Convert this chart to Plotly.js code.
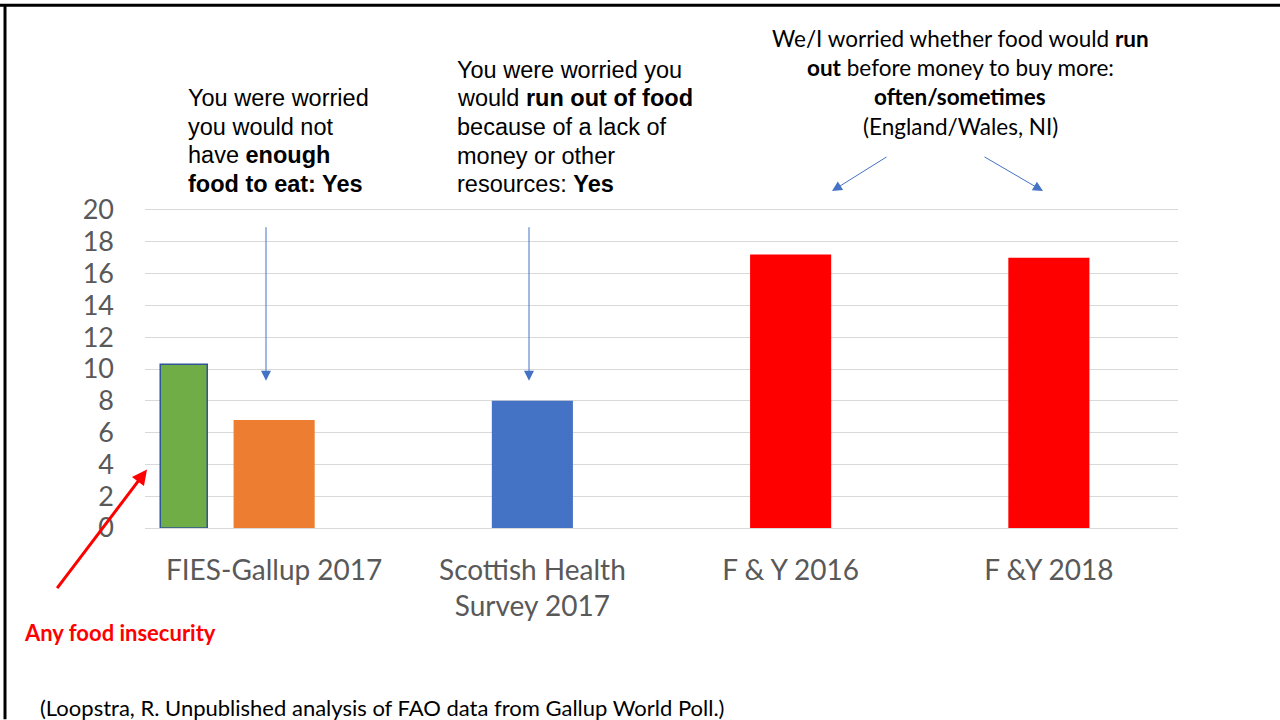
<!DOCTYPE html>
<html>
<head>
<meta charset="utf-8">
<script src="https://cdn.plot.ly/plotly-3.0.1.min.js"></script>
<style>html,body{margin:0;padding:0;background:#fff;}#chart{width:1280px;height:720px;}</style>
</head>
<body>
<div id="chart"></div>
<script>
// ---- data ----
var categories = ["FIES-Gallup 2017", "Scottish Health<br>Survey 2017", "F & Y 2016", "F &Y 2018"];
var mainValues = [6.8, 8.0, 17.2, 17.0];
var mainColors = ["#ed7d31", "#4472c4", "#ff0000", "#ff0000"];
var anyInsecurityCategory = ["FIES-Gallup 2017"];
var anyInsecurityValue = [10.3];
var yTicks = [0, 2, 4, 6, 8, 10, 12, 14, 16, 18, 20];

var note1Lines = ["You were worried", "you would not", "have <b>enough</b>", "<b>food to eat: Yes</b>"];
var note2Lines = ["You were worried you", "would <b>run out of food</b>", "because of a lack of", "money or other", "resources: <b>Yes</b>"];
var note3Lines = ["We/I worried whether food would <b>run</b>", "<b>out</b> before money to buy more:", "<b>often/sometimes</b>", "(England/Wales, NI)"];

// ---- layout geometry (pixels) ----
var L = 145, R = 1178, T = 210, B = 528.5;
function px(x) { return (x - L) / (R - L); }
function py(y) { return (B - y) / (B - T); }

var traces = [
  {
    type: "bar", x: categories, y: mainValues,
    marker: { color: mainColors, line: { width: 0 } },
    width: 0.314, hoverinfo: "x+y", showlegend: false
  },
  {
    type: "bar", x: anyInsecurityCategory, y: anyInsecurityValue,
    marker: { color: "#70ad47", line: { color: "#2f5597", width: 1.5 } },
    width: 0.182, offset: -0.441, showlegend: false
  }
];

var blue = "#4472c4";
function arrow(tipX, tipY, tailX, tailY, color, w, head, size) {
  return {
    xref: "paper", yref: "paper", x: px(tipX), y: py(tipY),
    axref: "pixel", ayref: "pixel", ax: tailX - tipX, ay: tailY - tipY,
    showarrow: true, arrowcolor: color, arrowwidth: w, arrowhead: head, arrowsize: size,
    standoff: 0, startstandoff: 0, text: ""
  };
}

var arial = "Liberation Sans, Arial, sans-serif";
var cal = "Lato, Calibri, sans-serif";

function textBlock(lines, x, firstY, lh, anchor, font) {
  return lines.map(function (t, i) {
    return {
      xref: "paper", yref: "paper", x: px(x), y: py(firstY + i * lh),
      xanchor: anchor, yanchor: "middle", showarrow: false, text: t, font: font
    };
  });
}

var annotations = []
  .concat(textBlock(note1Lines, 186, 98, 28.7, "left", { family: arial, size: 23.5, color: "#000" }))
  .concat(textBlock(note2Lines, 455, 69.5, 28.7, "left", { family: arial, size: 23.5, color: "#000" }))
  .concat(textBlock(note3Lines, 960, 38, 29.3, "center", { family: cal, size: 22.5, color: "#000" }))
  .concat([
    {
      xref: "paper", yref: "paper", x: px(22), y: py(633), xanchor: "left", yanchor: "middle",
      showarrow: false, text: "<b>Any food insecurity</b>",
      font: { family: cal, size: 22, color: "#ff0000" }
    },
    {
      xref: "paper", yref: "paper", x: px(38), y: py(708), xanchor: "left", yanchor: "middle",
      showarrow: false,
      text: "(Loopstra, R. Unpublished analysis of FAO data from Gallup World Poll.)",
      font: { family: cal, size: 22, color: "#000" }
    },
    arrow(266, 381, 266, 226, blue, 1, 2, 2),
    arrow(529, 381, 529, 226, blue, 1, 2, 2),
    arrow(832, 191, 888, 156, blue, 1, 2, 2),
    arrow(1043, 191, 983, 156, blue, 1, 2, 2),
    arrow(147, 470, 56, 590, "#ff0000", 3, 2, 1)
  ]);

var shapes = [
  { type: "line", xref: "paper", yref: "paper", x0: px(0), x1: px(1280), y0: py(5), y1: py(5), line: { color: "#000", width: 3 } },
  { type: "line", xref: "paper", yref: "paper", x0: px(5), x1: px(5), y0: py(4), y1: py(720), line: { color: "#000", width: 3 } }
];

var layout = {
  width: 1280, height: 720,
  margin: { l: L, r: 1280 - R, t: T, b: 720 - B, pad: 0 },
  paper_bgcolor: "#fff", plot_bgcolor: "#fff",
  barmode: "overlay",
  showlegend: false,
  xaxis: {
    type: "category", range: [-0.5, 3.5], categoryorder: "array", categoryarray: categories,
    showgrid: false, zeroline: false, showline: true, mirror: true, linecolor: "#d9d9d9", linewidth: 1,
    ticks: "", ticklabelstandoff: 17,
    tickfont: { family: cal, size: 28, color: "#595959" }
  },
  yaxis: {
    range: [0, 20], tickvals: yTicks, ticktext: yTicks.map(String),
    showgrid: true, gridcolor: "#d9d9d9", gridwidth: 1, zeroline: false, showline: false,
    ticks: "", ticklabelstandoff: 30,
    tickfont: { family: cal, size: 27, color: "#595959" }
  },
  annotations: annotations,
  shapes: shapes
};

Plotly.newPlot("chart", traces, layout, { displayModeBar: false, staticPlot: true });
</script>
</body>
</html>
